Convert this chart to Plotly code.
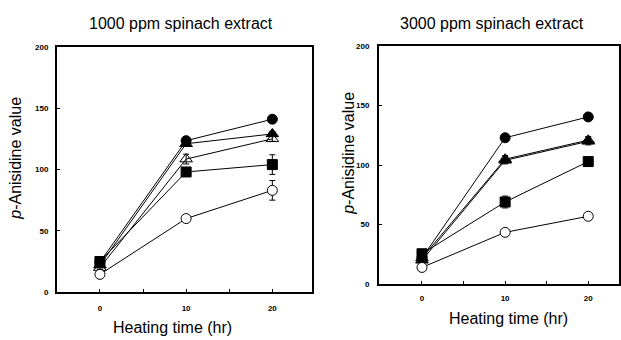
import plotly.graph_objects as go

hours = [0, 10, 20]

# 1000 ppm panel
l_fcirc = [24.5, 123.5, 141]
l_fcirc_err = [1.5, 2.5, 3]
l_ftri = [22, 121, 129]
l_ftri_err = [1.5, 2, 2]
l_otri = [20, 108.5, 125]
l_otri_err = [1.5, 4, 2]
l_fsq = [25, 98, 104]
l_fsq_err = [1.5, 2, 8]
l_ocirc = [14.5, 60, 83]
l_ocirc_err = [1.5, 1.5, 8]

# 3000 ppm panel
r_fcirc = [22, 123, 140.5]
r_fcirc_err = [1.5, 3, 3]
r_ftri = [20, 104, 120]
r_ftri_err = [1.5, 3, 3]
r_otri = [22, 105, 121]
r_otri_err = [1.5, 3, 3]
r_fsq = [25.5, 69, 103]
r_fsq_err = [1.5, 5, 2]
r_ocirc = [14, 43.5, 57]
r_ocirc_err = [1.5, 1.5, 3]

y_ticks = [0, 50, 100, 150, 200]
x_ticks = [0, 10, 20]

series_style = [
    ("circle", "black"),
    ("triangle-up", "black"),
    ("triangle-up-open", "black"),
    ("square", "black"),
    ("circle", "white"),
]

fig = go.Figure()

def add_panel(data, xa, ya):
    for (vals, errs), (sym, fill) in zip(data, series_style):
        fig.add_trace(go.Scatter(
            x=hours, y=vals, xaxis=xa, yaxis=ya, mode="lines+markers",
            line=dict(color="black", width=1),
            marker=dict(symbol=sym, size=10 if "circle" in sym or "square" in sym else 11,
                        color=fill if sym != "triangle-up-open" else "black",
                        line=dict(color="black", width=1)),
            error_y=dict(type="data", array=errs, color="black", thickness=1, width=3),
            showlegend=False))

add_panel([(l_fcirc, l_fcirc_err), (l_ftri, l_ftri_err), (l_otri, l_otri_err),
           (l_fsq, l_fsq_err), (l_ocirc, l_ocirc_err)], "x", "y")
add_panel([(r_fcirc, r_fcirc_err), (r_ftri, r_ftri_err), (r_otri, r_otri_err),
           (r_fsq, r_fsq_err), (r_ocirc, r_ocirc_err)], "x2", "y2")

W, H = 621, 340
tickfont = dict(family="Liberation Sans, Arial", size=8, color="black", weight="bold")
axcommon = dict(showline=True, linecolor="black", linewidth=1.5, mirror=True,
                showgrid=False, zeroline=False, ticks="inside", ticklen=3,
                tickcolor="black", tickfont=tickfont)

fig.update_layout(
    width=W, height=H, margin=dict(l=0, r=0, t=0, b=0),
    paper_bgcolor="white", plot_bgcolor="white",
    xaxis=dict(domain=[57 / W, 313 / W], range=[-5, 24.6], tickvals=x_ticks,
               minor=dict(tickvals=[5, 15], ticks="inside", ticklen=3, tickcolor="black"),
               anchor="y", ticklabelstandoff=7, **axcommon),
    yaxis=dict(domain=[1 - 296 / H, 1 - 44 / H], range=[0, 200], tickvals=y_ticks,
               anchor="x", ticklabelstandoff=5, **axcommon),
    xaxis2=dict(domain=[380 / W, 1.0], range=[-5.2, 23.7], tickvals=x_ticks,
                minor=dict(tickvals=[5, 15], ticks="inside", ticklen=3, tickcolor="black"),
                anchor="y2", ticklabelstandoff=6, **axcommon),
    yaxis2=dict(domain=[1 - 287.7 / H, 1 - 43.3 / H], range=[0, 200], tickvals=y_ticks,
                anchor="x2", ticklabelstandoff=6, **axcommon),
)

font_main = dict(family="Liberation Sans, Arial", size=16, color="black")
ann = [
    dict(x=182 / W, y=1 - 20 / H, text="1000 ppm spinach extract"),
    dict(x=494 / W, y=1 - 20 / H, text="3000 ppm spinach extract"),
    dict(x=16 / W, y=1 - 158 / H, text="<i>p</i>-Anisidine value", textangle=-90),
    dict(x=350 / W, y=1 - 153 / H, text="<i>p</i>-Anisidine value", textangle=-90),
    dict(x=173 / W, y=1 - 332 / H, text="Heating time (hr)"),
    dict(x=510 / W, y=1 - 323 / H, text="Heating time (hr)"),
]
for a in ann:
    fig.add_annotation(xref="paper", yref="paper", showarrow=False,
                       xanchor="center", yanchor="middle",
                       font=font_main, **a)

fig.write_html("out.html")
